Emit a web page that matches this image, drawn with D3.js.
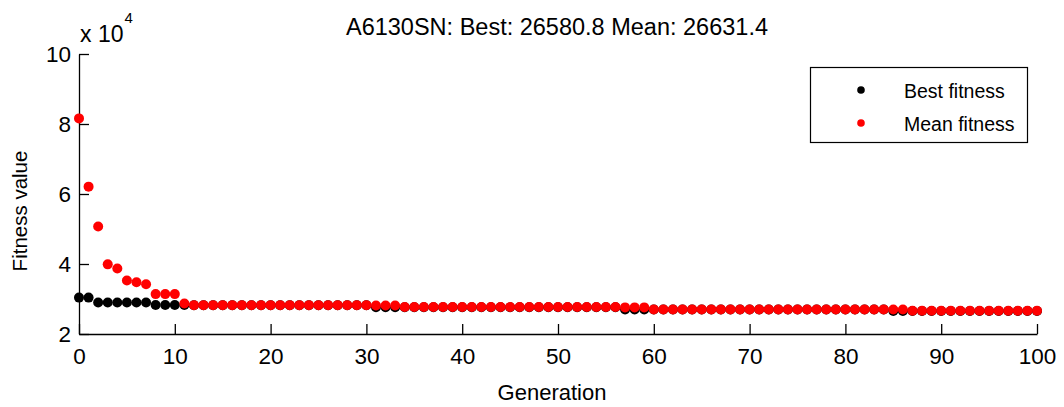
<!DOCTYPE html>
<html>
<head>
<meta charset="utf-8">
<script src="https://cdn.jsdelivr.net/npm/d3@7"></script>
<style>
  html, body { margin: 0; padding: 0; background: #fff; }
  svg { display: block; font-family: "Liberation Sans", Arial, sans-serif; }
</style>
</head>
<body>
<svg id="chart" width="1064" height="407"></svg>
<script>
// Generation numbers 0..100
const generations = [
  0,1,2,3,4,5,6,7,8,9,10,11,12,13,14,15,16,17,18,19,20,
  21,22,23,24,25,26,27,28,29,30,31,32,33,34,35,36,37,38,39,40,
  41,42,43,44,45,46,47,48,49,50,51,52,53,54,55,56,57,58,59,60,
  61,62,63,64,65,66,67,68,69,70,71,72,73,74,75,76,77,78,79,80,
  81,82,83,84,85,86,87,88,89,90,91,92,93,94,95,96,97,98,99,100
];

// Best fitness per generation
const bestFitness = [
  30400,30400,29000,29000,29000,29000,29000,29000,28300,28300,28300,28300,
  28200,28200,28200,28200,28200,28200,28200,28200,28200,28200,28200,28200,28200,28200,28200,28200,28200,28200,28200,
  27650,27650,27650,27650,27650,27650,27650,27650,27650,27650,27650,27650,27650,27650,27650,27650,27650,27650,27650,27650,27650,27650,27650,27650,27650,27650,
  26980,26980,26980,26980,26980,26980,26980,26980,26980,26980,26980,26980,26980,26980,26980,26980,26980,26980,26980,26980,26980,26980,26980,26980,26980,26980,26980,26980,
  26580.8,26580.8,26580.8,26580.8,26580.8,26580.8,26580.8,26580.8,26580.8,26580.8,26580.8,26580.8,26580.8,26580.8,26580.8,26580.8
];

// Mean fitness per generation
const meanFitness = [
  81600,62100,50700,39900,38700,35300,34800,34200,31400,31400,31400,28700,
  28250,28250,28250,28250,28250,28250,28250,28250,28250,28250,28250,28250,28250,28250,28250,28250,28250,28250,28250,
  28150,28150,28150,
  27700,27700,27700,27700,27700,27700,27700,27700,27700,27700,27700,27700,27700,27700,27700,27700,27700,27700,27700,27700,27700,27700,27700,
  27600,27600,27600,
  27030,27030,27030,27030,27030,27030,27030,27030,27030,27030,27030,27030,27030,27030,27030,27030,27030,27030,27030,27030,27030,27030,27030,27030,27030,
  26990,26990,
  26640,26640,26640,26640,26640,26640,26640,26640,26640,26640,26640,26640,26640,26631.4
];

const xTicks = [0,10,20,30,40,50,60,70,80,90,100];
const yTicks = [2,4,6,8,10];   // in units of 10^4
const yScaleFactor = 1e4;

const chartTitle = "A6130SN: Best: 26580.8 Mean: 26631.4";
const xLabel = "Generation";
const yLabel = "Fitness value";
const legendLabels = ["Best fitness", "Mean fitness"];
const seriesColors = ["#000000", "#ff0000"];

const svg = d3.select("#chart");

const plot = { left: 79, right: 1037, top: 54, bottom: 334 };

const x = d3.scaleLinear().domain([0, 100]).range([plot.left, plot.right]);
const y = d3.scaleLinear().domain([2, 10]).range([plot.bottom, plot.top]);

// Axes with inward ticks
const xAxis = d3.axisBottom(x)
  .tickValues(xTicks)
  .tickFormat(d3.format("d"))
  .tickSizeInner(-10)
  .tickSizeOuter(0)
  .tickPadding(14);

const yAxis = d3.axisLeft(y)
  .tickValues(yTicks)
  .tickFormat(d3.format("d"))
  .tickSizeInner(-10)
  .tickSizeOuter(0)
  .tickPadding(8);

const gx = svg.append("g")
  .attr("transform", `translate(0,${plot.bottom})`)
  .call(xAxis);
const gy = svg.append("g")
  .attr("transform", `translate(${plot.left},0)`)
  .call(yAxis);

[gx, gy].forEach(g => {
  g.selectAll("path, line").attr("stroke", "#000").attr("stroke-width", 1.3);
  g.selectAll("text")
    .attr("fill", "#000")
    .style("font-size", "22.5px")
    .style("font-family", "'Liberation Sans', Arial, sans-serif");
});

// Exponent marker above the y axis
const expo = svg.append("text")
  .attr("x", 80)
  .attr("y", 42)
  .style("font-size", "23px")
  .attr("fill", "#000")
  .text("x 10");
expo.append("tspan")
  .attr("dy", -19)
  .attr("dx", 1)
  .style("font-size", "15px")
  .text("4");

// Series: best drawn first, mean on top
const series = [bestFitness, meanFitness];
series.forEach((vals, i) => {
  svg.append("g")
    .selectAll("circle")
    .data(generations)
    .join("circle")
    .attr("cx", d => x(d))
    .attr("cy", (d, j) => y(vals[j] / yScaleFactor))
    .attr("r", 5)
    .attr("fill", seriesColors[i]);
});

// Title
svg.append("text")
  .attr("x", 557)
  .attr("y", 35)
  .attr("text-anchor", "middle")
  .style("font-size", "23.5px")
  .attr("fill", "#000")
  .text(chartTitle);

// Axis labels
svg.append("text")
  .attr("x", 552)
  .attr("y", 400)
  .attr("text-anchor", "middle")
  .style("font-size", "22px")
  .attr("fill", "#000")
  .text(xLabel);

svg.append("text")
  .attr("transform", "translate(27,211) rotate(-90)")
  .attr("text-anchor", "middle")
  .style("font-size", "20.5px")
  .attr("fill", "#000")
  .text(yLabel);

// Legend
const legend = svg.append("g");
legend.append("rect")
  .attr("x", 810.5).attr("y", 67.5)
  .attr("width", 217).attr("height", 75)
  .attr("fill", "#fff")
  .attr("stroke", "#000")
  .attr("stroke-width", 1.2);

legendLabels.forEach((lab, i) => {
  const cy = 90 + i * 33;
  legend.append("circle")
    .attr("cx", 861).attr("cy", cy)
    .attr("r", 3.8)
    .attr("fill", seriesColors[i]);
  legend.append("text")
    .attr("x", 904).attr("y", cy + 7.5)
    .style("font-size", "19.5px")
    .attr("fill", "#000")
    .text(lab);
});
</script>
</body>
</html>
